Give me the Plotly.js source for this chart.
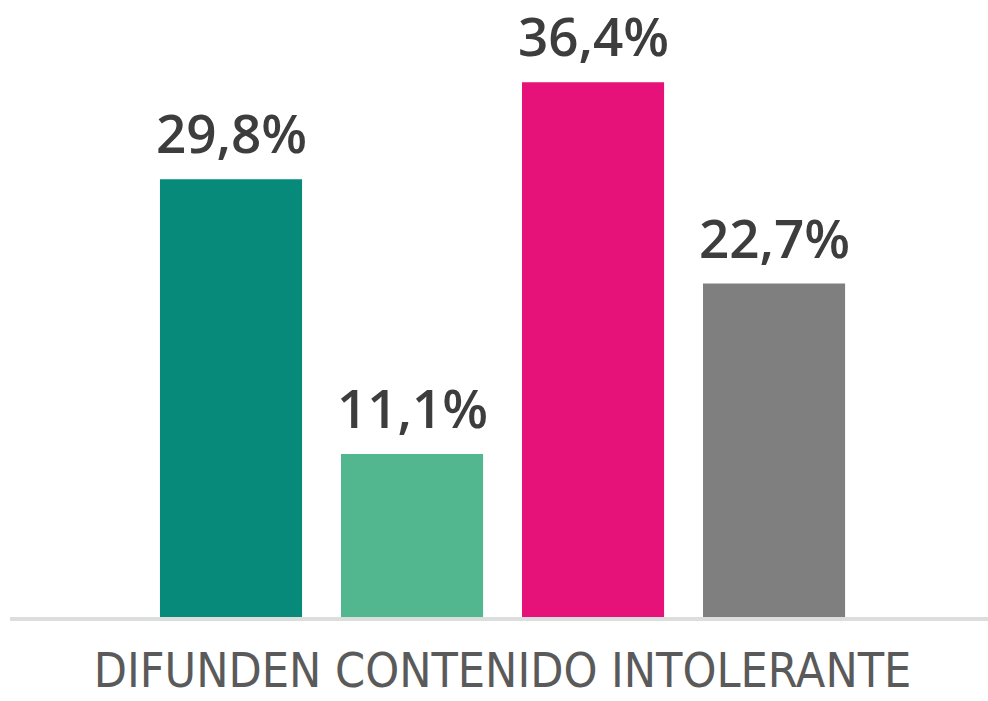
<!DOCTYPE html>
<html>
<head>
<meta charset="utf-8">
<script src="https://cdn.plot.ly/plotly-3.0.1.min.js"></script>
<style>html,body{margin:0;padding:0;background:#fff;}#chart{width:988px;height:701px;}</style>
</head>
<body>
<div id="chart"></div>
<script>
const category = "DIFUNDEN CONTENIDO INTOLERANTE";
const barPositions = [0, 1, 2, 3];
const values = [29.8, 11.1, 36.4, 22.7];
const colors = ["#078a7a", "#52b78f", "#e6127a", "#7f7f7f"];

const trace = {
  type: "bar",
  x: barPositions,
  y: values,
  width: 0.785,
  marker: {color: colors},
  hoverinfo: "skip"
};

const annotations = values.map((v, i) => ({
  x: barPositions[i],
  y: v,
  xref: "x",
  yref: "y",
  text: v.toFixed(1).replace(".", ",") + "%",
  showarrow: false,
  yanchor: "bottom",
  yshift: 8,
  font: {family: "Open Sans, sans-serif", size: 53, color: "#3d3d3d", weight: 600}
}));

const layout = {
  width: 988,
  height: 701,
  margin: {l: 10, r: 0, t: 0, b: 84},
  paper_bgcolor: "#ffffff",
  plot_bgcolor: "#ffffff",
  showlegend: false,
  xaxis: {
    range: [-1.221, 4.182],
    tickvals: [1.5],
    ticktext: [category],
    tickfont: {family: "DejaVu Sans Condensed, Liberation Sans Narrow, sans-serif", size: 48, color: "#5a5a5a", weight: 500},
    ticklabelstandoff: 8,
    showgrid: false,
    zeroline: false,
    showline: true,
    linecolor: "#dcdedd",
    linewidth: 4,
    ticks: "",
    fixedrange: true
  },
  yaxis: {
    range: [0, 42],
    visible: false,
    showgrid: false,
    zeroline: false,
    fixedrange: true
  },
  annotations: annotations
};

Plotly.newPlot("chart", [trace], layout, {displayModeBar: false, staticPlot: true});
</script>
</body>
</html>
